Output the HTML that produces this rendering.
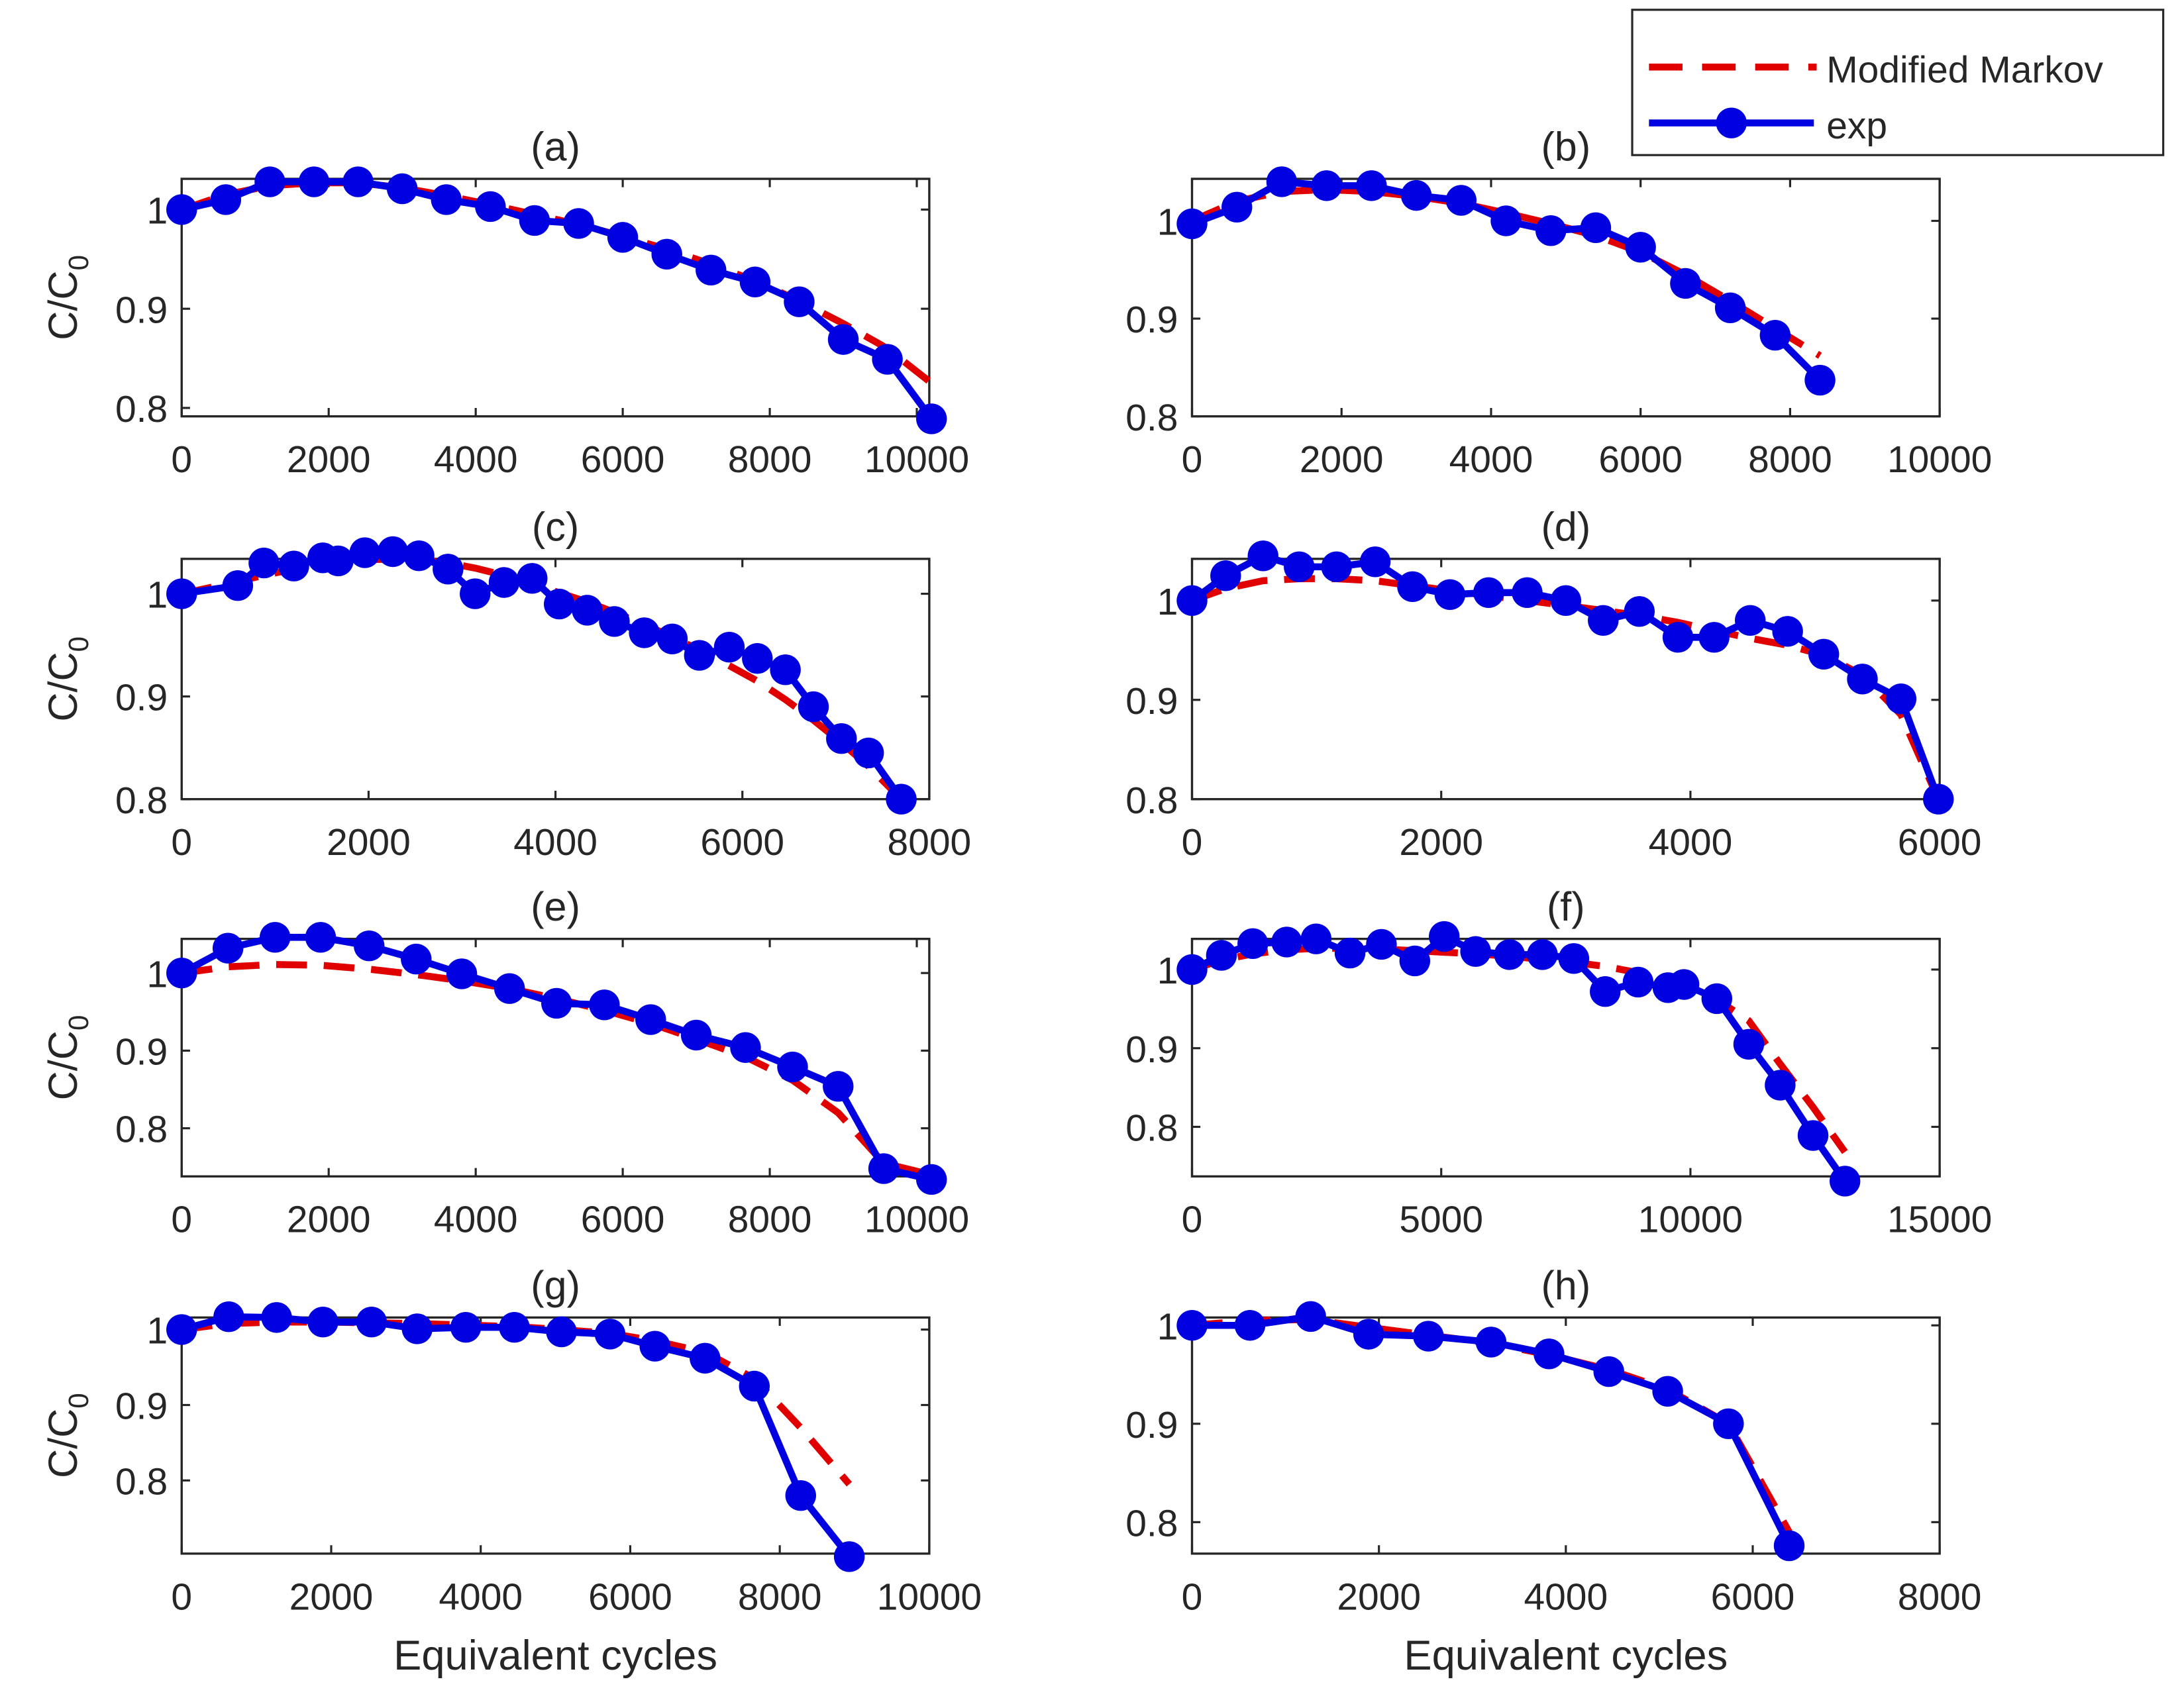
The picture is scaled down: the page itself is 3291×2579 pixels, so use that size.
<!DOCTYPE html>
<html><head><meta charset="utf-8"><style>
html,body{margin:0;padding:0;background:#fff}
svg{display:block}
text{font-family:"Liberation Sans",sans-serif;fill:#262626}
</style></head><body>
<svg id="fig" xmlns="http://www.w3.org/2000/svg" width="3291" height="2579" viewBox="0 0 1560 1222.5">
<rect x="0" y="0" width="1560" height="1222.5" fill="#fff"/>
<g>
<rect x="1168" y="7" width="380" height="104" fill="#fff" stroke="#262626" stroke-width="1.5"/>
<line x1="1180" y1="48" x2="1300" y2="48" stroke="#e00000" stroke-width="5" stroke-dasharray="24,14"/>
<text x="1307" y="59" font-size="27">Modified Markov</text>
<line x1="1180" y1="88" x2="1298" y2="88" stroke="#0000e0" stroke-width="5"/>
<circle cx="1239" cy="88" r="11" fill="#0000e0"/>
<text x="1307" y="99" font-size="27">exp</text>
</g>
</svg>
<script>
// panel (a)
const aX=[0,600,1200,1800,2400,3000,3600,4200,4800,5400,6000,6600,7200,7800,8400,9000,9600,10200];
const aExp=[1.0,1.01,1.028,1.028,1.028,1.021,1.01,1.003,0.989,0.986,0.972,0.955,0.939,0.927,0.907,0.869,0.849,0.789];
const aMk=[1.0,1.015,1.024,1.027,1.027,1.022,1.014,1.005,0.995,0.985,0.973,0.96,0.945,0.928,0.908,0.885,0.86,0.825];
// panel (b)
const bX=[0,600,1200,1800,2400,3000,3600,4200,4800,5400,6000,6600,7200,7800,8400];
const bExp=[0.997,1.014,1.04,1.036,1.036,1.026,1.021,1.0,0.99,0.993,0.973,0.936,0.911,0.883,0.837];
const bMk=[1.0,1.02,1.03,1.032,1.03,1.025,1.018,1.008,0.997,0.985,0.968,0.945,0.918,0.89,0.862];
// panel (c)
const cX=[0,600,880,1200,1510,1675,1960,2260,2540,2850,3140,3450,3750,4040,4340,4630,4950,5250,5540,5860,6160,6460,6760,7060,7350,7700];
const cExp=[1.0,1.008,1.03,1.027,1.035,1.032,1.04,1.041,1.037,1.024,1.0,1.011,1.015,0.99,0.984,0.973,0.962,0.956,0.94,0.948,0.937,0.926,0.89,0.859,0.845,0.8];
const cMk=[1.0,1.012,1.018,1.024,1.028,1.03,1.033,1.034,1.033,1.03,1.025,1.018,1.01,1.001,0.992,0.982,0.97,0.958,0.945,0.93,0.915,0.897,0.877,0.855,0.832,0.8];
// panel (d)
const dX=[0,270,570,860,1160,1470,1770,2070,2380,2690,3000,3300,3590,3900,4190,4480,4780,5070,5380,5690,5990];
const dExp=[1.0,1.025,1.045,1.034,1.034,1.039,1.014,1.006,1.008,1.008,1.0,0.98,0.989,0.963,0.963,0.98,0.969,0.946,0.921,0.901,0.8];
const dMk=[1.0,1.012,1.02,1.022,1.022,1.02,1.015,1.01,1.005,1.0,0.995,0.99,0.985,0.978,0.97,0.962,0.955,0.945,0.925,0.885,0.8];
// panel (e)
const eX=[0,630,1270,1890,2550,3190,3810,4460,5100,5750,6380,7000,7670,8310,8930,9550,10200];
const eExp=[1.0,1.032,1.046,1.046,1.035,1.018,0.999,0.98,0.961,0.959,0.94,0.92,0.904,0.879,0.854,0.748,0.734];
const eMk=[1.0,1.008,1.011,1.01,1.005,0.998,0.99,0.98,0.967,0.952,0.935,0.915,0.892,0.862,0.82,0.755,0.74];
// panel (f)
const fX=[0,590,1220,1900,2490,3170,3800,4470,5060,5690,6370,7030,7660,8290,8950,9550,9870,10530,11170,11800,12460,13100];
const fExp=[1.0,1.018,1.033,1.035,1.039,1.021,1.032,1.011,1.042,1.023,1.019,1.019,1.014,0.972,0.984,0.977,0.981,0.963,0.905,0.853,0.789,0.731];
const fMk=[1.0,1.012,1.02,1.025,1.027,1.027,1.026,1.024,1.022,1.02,1.017,1.013,1.009,1.004,0.996,0.985,0.978,0.962,0.935,0.88,0.825,0.768];
// panel (g)
const gX=[0,630,1270,1890,2540,3150,3800,4450,5080,5730,6330,7000,7660,8280,8930];
const gExp=[1.0,1.017,1.016,1.01,1.01,1.001,1.003,1.003,0.997,0.994,0.978,0.962,0.925,0.78,0.699];
const gMk=[1.0,1.008,1.01,1.01,1.009,1.008,1.006,1.004,1.0,0.995,0.985,0.97,0.935,0.87,0.795];
// panel (h)
const hX=[0,620,1270,1890,2530,3200,3820,4460,5090,5740,6390];
const hExp=[1.0,1.0,1.009,0.991,0.989,0.983,0.971,0.953,0.933,0.9,0.776];
const hMk=[1.0,1.005,1.006,0.998,0.99,0.982,0.97,0.955,0.935,0.9,0.79];
// axis tick labels
const xTicks10k=[0,2000,4000,6000,8000,10000];
const xTicks8k=[0,2000,4000,6000,8000];
const xTicks6k=[0,2000,4000,6000];
const xTicks15k=[0,5000,10000,15000];
const yTicks=[0.8,0.9,1];

const NS='http://www.w3.org/2000/svg';
const svg=document.getElementById('fig');
function mk(tag,attrs,parent){const e=document.createElementNS(NS,tag);for(const k in attrs)e.setAttribute(k,attrs[k]);(parent||svg).appendChild(e);return e;}

const panels=[
 {id:'a',L:130,R:665,T:128,B:298,x0:0,x1:10170,y0:0.7915,y1:1.031,xs:aX,ex:aExp,mk:aMk,xt:xTicks10k,ylab:true,xlab:false},
 {id:'b',L:853,R:1388,T:128,B:298,x0:0,x1:10000,y0:0.8,y1:1.043,xs:bX,ex:bExp,mk:bMk,xt:xTicks10k,ylab:false,xlab:false},
 {id:'c',L:130,R:665,T:400,B:572,x0:0,x1:8000,y0:0.8,y1:1.034,xs:cX,ex:cExp,mk:cMk,xt:xTicks8k,ylab:true,xlab:false},
 {id:'d',L:853,R:1388,T:400,B:572,x0:0,x1:6000,y0:0.8,y1:1.042,xs:dX,ex:dExp,mk:dMk,xt:xTicks6k,ylab:false,xlab:false},
 {id:'e',L:130,R:665,T:672,B:842,x0:0,x1:10170,y0:0.738,y1:1.044,xs:eX,ex:eExp,mk:eMk,xt:xTicks10k,ylab:true,xlab:false},
 {id:'f',L:853,R:1388,T:672,B:842,x0:0,x1:15000,y0:0.737,y1:1.039,xs:fX,ex:fExp,mk:fMk,xt:xTicks15k,ylab:false,xlab:false},
 {id:'g',L:130,R:665,T:943,B:1112,x0:0,x1:10000,y0:0.703,y1:1.016,xs:gX,ex:gExp,mk:gMk,xt:xTicks10k,ylab:true,xlab:true},
 {id:'h',L:853,R:1388,T:943,B:1112,x0:0,x1:8000,y0:0.768,y1:1.008,xs:hX,ex:hExp,mk:hMk,xt:xTicks8k,ylab:false,xlab:true}
];

panels.forEach(p=>{
 const sx=v=>p.L+(v-p.x0)/(p.x1-p.x0)*(p.R-p.L);
 const sy=v=>p.B-(v-p.y0)/(p.y1-p.y0)*(p.B-p.T);
 const g=mk('g',{});
 
 
 p.xt.forEach(t=>{
  const x=sx(t);
  mk('line',{x1:x,y1:p.B,x2:x,y2:p.B-6,stroke:'#262626','stroke-width':1.5},g);
  mk('line',{x1:x,y1:p.T,x2:x,y2:p.T+6,stroke:'#262626','stroke-width':1.5},g);
  const tl=mk('text',{x:x,y:p.B+40,'font-size':27,'text-anchor':'middle'},g);
  
  
  tl.textContent=String(t);
 });
 yTicks.forEach(t=>{
  const y=sy(t);
  if(y<p.T-1||y>p.B+1)return;
  mk('line',{x1:p.L,y1:y,x2:p.L+6,y2:y,stroke:'#262626','stroke-width':1.5},g);
  mk('line',{x1:p.R,y1:y,x2:p.R-6,y2:y,stroke:'#262626','stroke-width':1.5},g);
  const tl=mk('text',{x:p.L-10,y:y+10,'font-size':27,'text-anchor':'end'},g);
  
  
  tl.textContent=String(t);
 });
 const box=mk('rect',{x:p.L,y:p.T,width:p.R-p.L,height:p.B-p.T,fill:'none',stroke:'#262626','stroke-width':1.6},g);
 
 
 const ti=mk('text',{x:(p.L+p.R)/2,y:p.T-13,'font-size':29,'text-anchor':'middle'},g);
 
 
 ti.textContent='('+p.id+')';
 if(p.ylab){
  const cy=(p.T+p.B)/2;
  const yl=mk('text',{x:0,y:0,'font-size':29,'text-anchor':'middle',transform:'translate(55,'+cy+') rotate(-90)'},g);
  
  
  yl.appendChild(document.createTextNode('C/C'));
  const sub=mk('tspan',{'font-size':20,dy:8},yl);
  sub.textContent='0';
 }
 if(p.xlab){
  const xl=mk('text',{x:(p.L+p.R)/2,y:p.B+83,'font-size':30,'text-anchor':'middle'},g);
  
  
  xl.textContent='Equivalent cycles';
 }
 const mp=p.xs.map((x,i)=>sx(x)+','+sy(p.mk[i])).join(' ');
 const ml=mk('polyline',{points:mp,fill:'none',stroke:'#e00000','stroke-width':5,'stroke-dasharray':'22,12'},g);
 
 
 const ep=p.xs.map((x,i)=>sx(x)+','+sy(p.ex[i])).join(' ');
 const el=mk('polyline',{points:ep,fill:'none',stroke:'#0000e0','stroke-width':5,'stroke-linejoin':'round'},g);
 
 
 p.xs.forEach((x,i)=>{
  const c=mk('circle',{cx:sx(x),cy:sy(p.ex[i]),r:11,fill:'#0000e0'},g);
  
  
 });
});
</script>
</body></html>
